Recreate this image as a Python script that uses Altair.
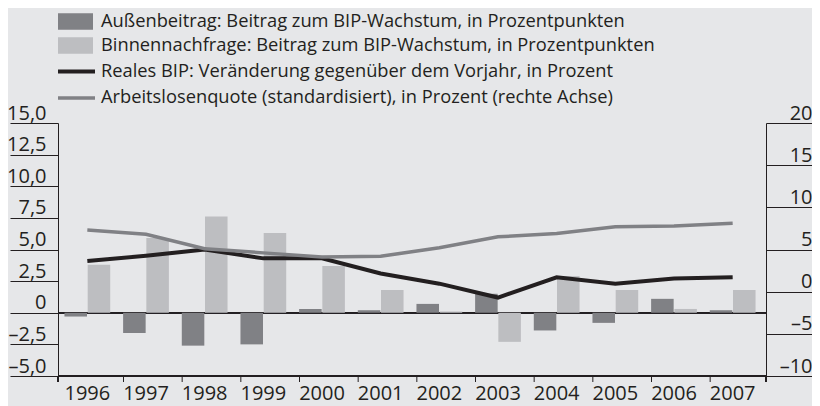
import altair as alt
import pandas as pd

# ---- data ----
years = [str(y) for y in range(1996, 2008)]
aussenbeitrag = [-0.3, -1.6, -2.6, -2.5, 0.3, 0.2, 0.7, 1.5, -1.4, -0.8, 1.1, 0.2]
binnennachfrage = [3.8, 5.9, 7.6, 6.3, 3.7, 1.8, 0.1, -2.3, 2.9, 1.8, 0.3, 1.8]
reales_bip = [4.1, 4.5, 5.0, 4.3, 4.3, 3.1, 2.3, 1.2, 2.8, 2.3, 2.7, 2.8]
arbeitslosenquote = [7.3, 6.8, 5.1, 4.6, 4.1, 4.2, 5.2, 6.5, 6.9, 7.7, 7.8, 8.1]

series_labels = [
    "Außenbeitrag: Beitrag zum BIP-Wachstum, in Prozentpunkten",
    "Binnennachfrage: Beitrag zum BIP-Wachstum, in Prozentpunkten",
    "Reales BIP: Veränderung gegenüber dem Vorjahr, in Prozent",
    "Arbeitslosenquote (standardisiert), in Prozent (rechte Achse)",
]
left_ticks = [-5, -2.5, 0, 2.5, 5, 7.5, 10, 12.5, 15]
right_ticks = [-10, -5, 0, 5, 10, 15, 20]

# ---- styling ----
BG = "#e6e7e9"
INK = "#231f20"
DARK = "#808185"
LIGHT = "#bdbec1"
FONT = "Open Sans"
W, H = 708, 253

bars_df = pd.DataFrame({
    "year": years * 2,
    "series": [series_labels[0]] * len(years) + [series_labels[1]] * len(years),
    "value": aussenbeitrag + binnennachfrage,
})
lines_df = pd.DataFrame({"year": years, "bip": reales_bip, "alq": arbeitslosenquote})
ticks_df = pd.DataFrame({"year": years[1:]})

x_enc = alt.X(
    "year:N",
    scale=alt.Scale(domain=years, range=[0, 704], paddingInner=0.22, paddingOuter=0.11),
    axis=alt.Axis(title=None, domain=False, ticks=False, tickSize=0, labelAngle=0,
                  labelFont=FONT, labelFontSize=20, labelColor=INK, labelPadding=7),
)

left_scale = alt.Scale(domain=[-5, 15], nice=False, zero=False)
left_axis = alt.Axis(
    title=None, values=left_ticks, grid=False, orient="left",
    tickSize=48, tickColor=INK, tickWidth=1, domainColor=INK, domainWidth=1,
    labelPadding=-36, labelAlign="right", labelBaseline="alphabetic", labelOffset=-4,
    labelFont=FONT, labelFontSize=20, labelColor=INK, labelFlush=False, labelOverlap=False,
    labelExpr="datum.value == 0 ? '0' : (datum.value < 0 ? '–' : '') + replace(format(abs(datum.value), '.1f'), '.', ',')",
)
right_scale = alt.Scale(domain=[-10, 20], nice=False, zero=False)
right_axis = alt.Axis(
    title=None, values=right_ticks, grid=False, orient="right",
    tickSize=48, tickColor=INK, tickWidth=1, domainColor=INK, domainWidth=1,
    labelPadding=-2, labelAlign="right", labelBaseline="alphabetic", labelOffset=-4,
    labelFont=FONT, labelFontSize=20, labelColor=INK, labelFlush=False, labelOverlap=False,
    labelExpr="(datum.value < 0 ? '–' : '') + format(abs(datum.value), 'd')",
)

zero_rule = alt.Chart(lines_df).mark_rule(color=INK, strokeWidth=1).encode(
    y=alt.Y(datum=0, scale=left_scale, axis=left_axis),
    x=alt.value(0), x2=alt.value(W),
)

bars = alt.Chart(bars_df).mark_bar().encode(
    x=x_enc,
    xOffset=alt.XOffset("series:N", scale=alt.Scale(domain=series_labels[:2], paddingInner=0.03, paddingOuter=0)),
    y=alt.Y("value:Q", scale=left_scale, axis=left_axis),
    color=alt.Color("series:N", scale=alt.Scale(domain=series_labels[:2], range=[DARK, LIGHT]), legend=None),
)

bip_line = alt.Chart(lines_df).mark_line(color=INK, strokeWidth=4).encode(
    x=x_enc,
    y=alt.Y("bip:Q", scale=left_scale, axis=left_axis),
)

alq_line = alt.Chart(lines_df).mark_line(color=DARK, strokeWidth=3.5).encode(
    x=x_enc,
    y=alt.Y("alq:Q", scale=right_scale, axis=right_axis),
)

inner = alt.layer(zero_rule, bars, bip_line)
main = alt.layer(inner, alq_line).resolve_scale(y="independent")

# x axis line and tick marks (ticks sit at the left edge of each year's bar pair)
x_line = alt.Chart(ticks_df).mark_rule(color=INK, strokeWidth=1).encode(
    x=alt.value(0), x2=alt.value(W), y=alt.value(H))
x_ticks = alt.Chart(ticks_df).mark_rule(color=INK, strokeWidth=1, xOffset=-22.5).encode(
    x=x_enc, y=alt.value(H), y2=alt.value(H + 6))
end_left = alt.Chart(ticks_df).mark_rule(color=INK, strokeWidth=1).encode(
    x=alt.value(0), y=alt.value(H), y2=alt.value(H + 6))
end_right = alt.Chart(ticks_df).mark_rule(color=INK, strokeWidth=1).encode(
    x=alt.value(W), y=alt.value(H), y2=alt.value(H + 6))

# legend (manual, above the plot)
leg_layers = []
row_y = [-101.5, -77.5, -51.5, -25]
one = pd.DataFrame({"k": [0]})
for i, lab in enumerate(series_labels):
    if i < 2:
        sym = alt.Chart(one).mark_rect(color=[DARK, LIGHT][i]).encode(
            x=alt.value(0), x2=alt.value(35), y=alt.value(row_y[i] - 8.2), y2=alt.value(row_y[i] + 8.2))
    else:
        sym = alt.Chart(one).mark_rule(color=[INK, DARK][i - 2], strokeWidth=[4, 3.5][i - 2]).encode(
            x=alt.value(0), x2=alt.value(37), y=alt.value(row_y[i]))
    txt = alt.Chart(one).mark_text(align="left", baseline="middle", font=FONT, fontSize=18.3, color=INK).encode(
        x=alt.value(43), y=alt.value(row_y[i]), text=alt.value(lab))
    leg_layers += [sym, txt]

chart = alt.layer(main, x_line, x_ticks, end_left, end_right, *leg_layers).properties(
    width=W, height=H,
    padding={"left": 50, "top": 115, "right": 46, "bottom": 30},
    autosize=alt.AutoSizeParams(type="none"),
    background=BG,
).configure_view(stroke=None)

chart.save("out.html", embed_options={"renderer": "svg", "actions": False})
